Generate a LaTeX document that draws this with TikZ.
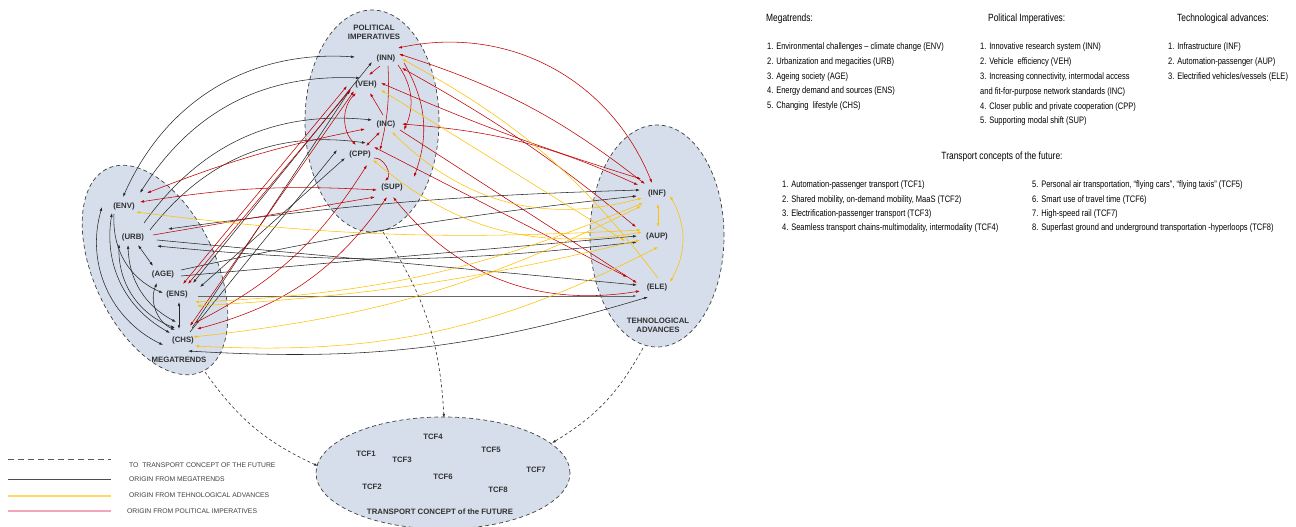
\documentclass[tikz,border=0pt]{standalone}
\usepackage{fontspec}
\setmainfont{Liberation Sans}
\newfontfamily\narrow[FakeStretch=0.8]{Liberation Sans}
\usetikzlibrary{arrows.meta,shapes.geometric}
\definecolor{fillc}{RGB}{213,222,234}
\definecolor{mtc}{RGB}{40,40,40}
\definecolor{tac}{RGB}{255,192,0}
\definecolor{pic}{RGB}{192,0,0}
\definecolor{labc}{RGB}{50,50,50}
\definecolor{legy}{RGB}{255,217,102}
\definecolor{legp}{RGB}{244,166,185}
\pgfdeclarelayer{background}
\pgfdeclarelayer{foreground}
\pgfsetlayers{background,main,foreground}
\begin{document}
\begin{tikzpicture}[x=1pt,y=1pt,>={Latex[length=4pt,width=2.6pt]},
 lab/.style={font=\bfseries\fontsize{7.8}{8.8}\selectfont, text=labc, inner sep=0pt, align=center},
 grp/.style={ellipse, draw=black!75, dash pattern=on 4pt off 3pt, fill=fillc, line width=0.7pt, inner sep=0pt},
 mt/.style={draw=mtc, line width=0.55pt},
 ta/.style={draw=tac, line width=0.55pt},
 pi/.style={draw=pic, line width=0.55pt},
 dsh/.style={draw=black!80, dash pattern=on 3pt off 2.5pt, line width=0.6pt},
 txt/.style={font=\narrow\fontsize{9.4}{10}\selectfont, anchor=west, inner sep=0pt, text=black},
 hd/.style={font=\narrow\fontsize{10.5}{12}\selectfont, anchor=west, inner sep=0pt, text=black},
 leg/.style={font=\fontsize{6.8}{7.5}\selectfont, text=black!75, anchor=west, inner sep=0pt},
 legline/.style={line width=1.3pt}]
\useasboundingbox (0,0) rectangle (1296,-527);

% group ellipses
\begin{pgfonlayer}{background}
\node[grp, minimum width=122pt, minimum height=224pt, rotate=25] (MT) at (155,-270) {};
\node[grp, minimum width=134pt, minimum height=222pt] (PI) at (372,-121) {};
\node[grp, minimum width=134pt, minimum height=222pt] (TA) at (657,-236) {};
\node[grp, minimum width=254pt, minimum height=112pt] (TCF) at (443,-473) {};
\end{pgfonlayer}

\begin{pgfonlayer}{foreground}
\node[lab] (MTt) at (179,-360) {MEGATRENDS};
\node[lab] (PIt) at (374,-32) {POLITICAL\\IMPERATIVES};
\node[lab] (TAt) at (658,-325) {TEHNOLOGICAL\\ADVANCES};
\node[lab] (TCFt) at (440,-512) {TRANSPORT CONCEPT of the FUTURE};
\node[lab] (ENV) at (124,-206) {(ENV)};
\node[lab] (URB) at (133,-237) {(URB)};
\node[lab] (AGE) at (163,-274) {(AGE)};
\node[lab] (ENS) at (177,-294) {(ENS)};
\node[lab] (CHS) at (183,-340) {(CHS)};
\node[lab] (INN) at (386,-58) {(INN)};
\node[lab] (VEH) at (366,-84) {(VEH)};
\node[lab] (INC) at (386,-124) {(INC)};
\node[lab] (CPP) at (360,-154) {(CPP)};
\node[lab] (SUP) at (392,-187) {(SUP)};
\node[lab] (INF) at (657,-193) {(INF)};
\node[lab] (AUP) at (657,-236) {(AUP)};
\node[lab] (ELE) at (657,-287) {(ELE)};
\node[lab] (T4) at (433,-437) {TCF4};
\node[lab] (T1) at (366,-454) {TCF1};
\node[lab] (T3) at (402,-460) {TCF3};
\node[lab] (T5) at (491,-450) {TCF5};
\node[lab] (T7) at (536,-470) {TCF7};
\node[lab] (T6) at (443,-477) {TCF6};
\node[lab] (T2) at (372,-487) {TCF2};
\node[lab] (T8) at (498,-490) {TCF8};
\end{pgfonlayer}

% ---------- black: origin from megatrends ----------
\draw[mt,<->] ([shift={(-1,9)}]ENV.center) to[bend left=35] ([shift={(-31,1)}]INN.center);
\draw[mt,<->] ([shift={(16,13)}]ENV.center) to[bend left=30] ([shift={(-6,6)}]VEH.center);
\draw[mt,->] ([shift={(11,14)}]URB.center) to[bend left=30] ([shift={(-14,4)}]INC.center);
\draw[mt,->] ([shift={(17,7)}]URB.center) to[bend left=30] ([shift={(6,11)}]CPP.center);
\draw[mt,<->] ([shift={(16,11)}]ENS.center) -- ([shift={(-14,-4)}]INN.center);
\draw[mt,->] ([shift={(9,12)}]CHS.center) -- ([shift={(-16,-6)}]VEH.center);
\draw[mt,<->] ([shift={(23,7)}]ENS.center) -- ([shift={(-15,-4)}]CPP.center);
\draw[mt,->] ([shift={(7,8)}]CHS.center) -- ([shift={(-23,4)}]CPP.center);
\draw[mt,<->] ([shift={(35,8)}]URB.center) to[bend left=3] ([shift={(-17,3)}]INF.center);
\draw[mt,->] ([shift={(24,-3)}]URB.center) -- ([shift={(-20,2)}]ELE.center);
\draw[mt,<->] ([shift={(24,-9)}]URB.center) to[bend right=6] ([shift={(-20,-6)}]AUP.center);
\draw[mt,->] ([shift={(18,4)}]AGE.center) to[bend left=3] ([shift={(-20,-3)}]INF.center);
\draw[mt,->] ([shift={(18,-2)}]AGE.center) -- ([shift={(-20,0)}]AUP.center);
\draw[mt,->,draw=black!60,line width=0.9pt] ([shift={(21,-2)}]ENS.center) -- ([shift={(-20,-9)}]ELE.center);
\draw[mt,<->] ([shift={(5,-11)}]CHS.center) to[bend right=10] ([shift={(-9,-10)}]ELE.center);
% inside megatrends
\draw[mt,<->] ([shift={(-22,-1)}]ENV.center) to[bend right=40] ([shift={(-20,-5)}]CHS.center);
\draw[mt,<->] ([shift={(-12,-7)}]ENV.center) to[bend right=35] ([shift={(-13,7)}]CHS.center);
\draw[mt,<->] ([shift={(-14,-7)}]URB.center) to[bend right=35] ([shift={(-8,12)}]CHS.center);
\draw[mt,<->] ([shift={(-5,-8)}]URB.center) to[bend right=30] ([shift={(-7,18)}]CHS.center);
\draw[mt,->] ([shift={(-10,-8)}]ENV.center) to[bend right=35] ([shift={(-14,1)}]ENS.center);
\draw[mt,<->] ([shift={(5,-8)}]URB.center) -- ([shift={(-10,8)}]AGE.center);
\draw[mt,<->] ([shift={(-6,-9)}]AGE.center) to[bend right=45] ([shift={(-8,10)}]CHS.center);
\draw[mt,<->] ([shift={(2,-8)}]ENS.center) -- ([shift={(-4,11)}]CHS.center);

% ---------- red: origin from political imperatives ----------
\draw[pi,->] ([shift={(-6,-8)}]INN.center) -- ([shift={(3,9)}]VEH.center);
\draw[pi,->] ([shift={(-3,9)}]INC.center) -- ([shift={(4,-9)}]VEH.center);
\draw[pi,<->] ([shift={(-10,-9)}]VEH.center) to[bend right=45] ([shift={(-4,9)}]CPP.center);
\draw[pi,<->] ([shift={(6,8)}]CPP.center) -- ([shift={(-6,-8)}]INC.center);
\draw[pi,->] ([shift={(2,-8)}]INN.center) to[bend left=8] ([shift={(20,4)}]CPP.center);
\draw[pi,->] ([shift={(12,-7)}]INN.center) to[bend left=30] ([shift={(18,-6)}]INC.center);
\draw[pi,->] ([shift={(18,-5)}]INN.center) to[bend left=25] ([shift={(22,10)}]SUP.center);
\draw[pi,->] ([shift={(14,-4)}]CPP.center) to[bend left=70] ([shift={(-7,6)}]SUP.center);
\draw[pi,<->] ([shift={(23,13)}]ENV.center) to[bend left=5] ([shift={(-21,-5)}]INC.center);
\draw[pi,<->] ([shift={(16,4)}]ENV.center) to[bend left=6] ([shift={(-15,-3)}]SUP.center);
\draw[pi,->] ([shift={(20,2)}]URB.center) -- ([shift={(-17,-10)}]SUP.center);
\draw[pi,<->] ([shift={(-19,-2)}]VEH.center) -- ([shift={(6,10)}]ENS.center);
\draw[pi,<->] ([shift={(-15,-5)}]VEH.center) -- ([shift={(11,10)}]ENS.center);
\draw[pi,<->] ([shift={(-12,-7)}]VEH.center) -- ([shift={(7,14)}]CHS.center);
\draw[pi,<->] ([shift={(12,17)}]CHS.center) to[bend right=15] ([shift={(7,-11)}]CPP.center);
\draw[pi,<->] ([shift={(14,11)}]CHS.center) to[bend right=20] ([shift={(-5,-10)}]SUP.center);
\draw[pi,<->] ([shift={(12,10)}]INN.center) to[bend left=40] ([shift={(-5,10)}]INF.center);
\draw[pi,<->] ([shift={(13,4)}]INN.center) to[bend left=10] ([shift={(-12,9)}]INF.center);
\draw[pi,<->] ([shift={(16,-10)}]INN.center) to[bend left=5] ([shift={(-21,9)}]AUP.center);
\draw[pi,<->] ([shift={(15,1)}]VEH.center) to[bend right=3] ([shift={(-16,14)}]INF.center);
\draw[pi,<->] ([shift={(16,0)}]INC.center) to[bend left=10] ([shift={(-19,8)}]INF.center);
\draw[pi,<->] ([shift={(14,7)}]CPP.center) -- ([shift={(-30,10)}]ELE.center);
\draw[pi,->] ([shift={(14,-6)}]INC.center) -- ([shift={(-20,4)}]ELE.center);
\draw[pi,<->] ([shift={(1,-10)}]SUP.center) to[bend right=30] ([shift={(-17,-4)}]ELE.center);

% ---------- yellow: origin from technological advances ----------
\draw[ta,<->] ([shift={(1,-11)}]INF.center) -- ([shift={(1,9)}]AUP.center);
\draw[ta,<->] ([shift={(13,-3)}]INF.center) to[bend left=30] ([shift={(13,5)}]ELE.center);
\draw[ta,->] ([shift={(1,9)}]ELE.center) to[bend right=12] ([shift={(16,-1)}]INN.center);
\draw[ta,<->] ([shift={(15,-6)}]VEH.center) -- ([shift={(-32,-5)}]AUP.center);
\draw[ta,<->] ([shift={(6,-8)}]INC.center) to[bend right=30] ([shift={(-15,-5)}]INF.center);
\draw[ta,<->] ([shift={(13,-6)}]CPP.center) to[bend right=25] ([shift={(-15,4)}]AUP.center);
\draw[ta,<->] ([shift={(12,-6)}]ENV.center) to[bend right=5] ([shift={(-16,6)}]AUP.center);
\draw[ta,<->] ([shift={(18,-8)}]ENS.center) to[bend right=10] ([shift={(-14,-10)}]INF.center);
\draw[ta,<->] ([shift={(20,-12)}]ENS.center) to[bend right=5] ([shift={(-17,-4)}]AUP.center);
\draw[ta,<->] ([shift={(10,3)}]CHS.center) to[bend right=10] ([shift={(-16,-13)}]INF.center);
\draw[ta,<->] ([shift={(12,-6)}]CHS.center) to[bend right=15] ([shift={(1,-11)}]AUP.center);

% ---------- dashed: to transport concepts ----------
\draw[dsh,->] ([shift={(50,-102)}]MT.center) to[bend right=15] ([shift={(-125,7)}]TCF.center);
\draw[dsh,->] ([shift={(11,-111)}]PI.center) to[bend left=15] ([shift={(1,55)}]TCF.center);
\draw[dsh,->] ([shift={(-14,-112)}]TA.center) to[bend left=15] ([shift={(109,30)}]TCF.center);

% ---------- legend ----------
\coordinate (La1) at (8,-459); \coordinate (La2) at (111,-459);
\coordinate (Lb1) at (8,-479); \coordinate (Lb2) at (111,-479);
\coordinate (Lc1) at (8,-496); \coordinate (Lc2) at (111,-496);
\coordinate (Ld1) at (8,-511); \coordinate (Ld2) at (111,-511);
\draw[legline, draw=black!65, line width=1pt, dash pattern=on 6pt off 4pt] (La1) -- (La2);
\draw[legline, draw=black!70, line width=1pt] (Lb1) -- (Lb2);
\draw[legline, draw=legy] (Lc1) -- (Lc2);
\draw[legline, draw=legp] (Ld1) -- (Ld2);
\node[leg] (LA) at (129,-465) {TO\ \ TRANSPORT CONCEPT OF THE FUTURE};
\node[leg] (LB) at (129,-479) {ORIGIN FROM MEGATRENDS};
\node[leg] (LC) at (129,-495) {ORIGIN FROM TEHNOLOGICAL ADVANCES};
\node[leg] (LD) at (127,-511) {ORIGIN FROM POLITICAL IMPERATIVES};

% ---------- text blocks ----------
\node[hd] (H1) at (766,-19) {Megatrends:};
\node[txt] (m1) at (767,-47) {1. Environmental challenges – climate change (ENV)};
\node[txt] (m2) at (767,-62) {2. Urbanization and megacities (URB)};
\node[txt] (m3) at (767,-77) {3. Ageing society (AGE)};
\node[txt] (m4) at (767,-91) {4. Energy demand and sources (ENS)};
\node[txt] (m5) at (767,-106) {5. Changing\ \ lifestyle (CHS)};

\node[hd] (H2) at (988,-19) {Political Imperatives:};
\node[txt] (p1) at (980,-47) {1. Innovative research system (INN)};
\node[txt] (p2) at (980,-62) {2. Vehicle\ \ efficiency (VEH)};
\node[txt] (p3) at (980,-77) {3. Increasing connectivity, intermodal access};
\node[txt] (p3b) at (980,-92) {and fit-for-purpose network standards (INC)};
\node[txt] (p4) at (980,-107) {4. Closer public and private cooperation (CPP)};
\node[txt] (p5) at (980,-121) {5. Supporting modal shift (SUP)};

\node[hd] (H3) at (1177,-19) {Technological advances:};
\node[txt] (t1) at (1168,-47) {1. Infrastructure (INF)};
\node[txt] (t2) at (1168,-62) {2. Automation-passenger (AUP)};
\node[txt] (t3) at (1168,-77) {3. Electrified vehicles/vessels (ELE)};

\node[hd, anchor=center] (H4) at (1002,-157) {Transport concepts of the future:};
\node[txt] (c1) at (782,-185) {1. Automation-passenger transport (TCF1)};
\node[txt] (c2) at (782,-200) {2. Shared mobility, on-demand mobility, MaaS (TCF2)};
\node[txt] (c3) at (782,-214) {3. Electrification-passenger transport (TCF3)};
\node[txt] (c4) at (782,-228) {4. Seamless transport chains-multimodality, intermodality (TCF4)};
\node[txt] (c5) at (1032,-185) {5. Personal air transportation, “flying cars”, “flying taxis” (TCF5)};
\node[txt] (c6) at (1032,-200) {6. Smart use of travel time (TCF6)};
\node[txt] (c7) at (1032,-214) {7. High-speed rail (TCF7)};
\node[txt] (c8) at (1032,-228) {8. Superfast ground and underground transportation -hyperloops (TCF8)};
\end{tikzpicture}
\end{document}
